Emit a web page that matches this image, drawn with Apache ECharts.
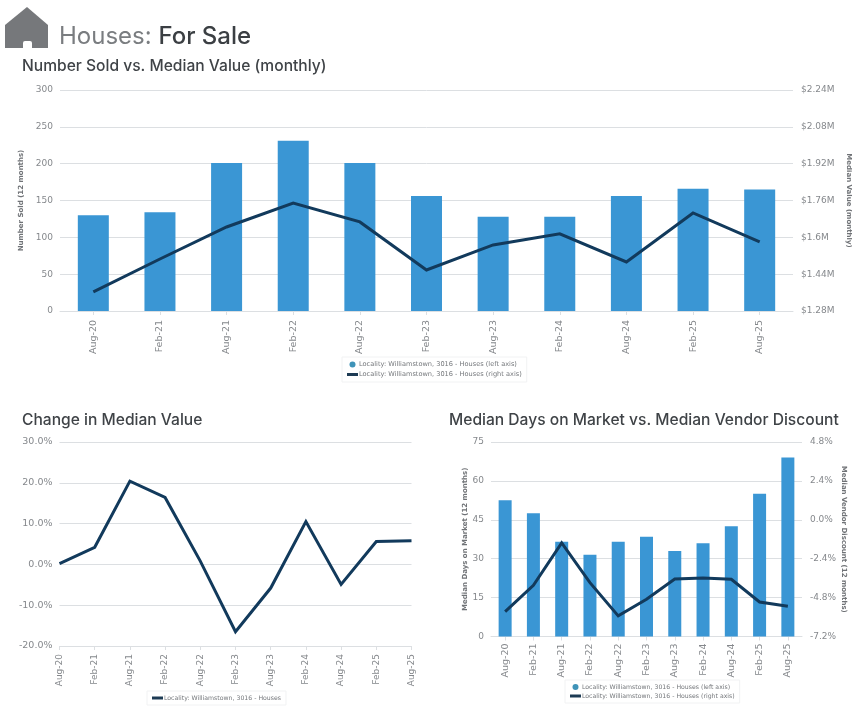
<!DOCTYPE html>
<html><head><meta charset="utf-8">
<style>html,body{margin:0;padding:0;background:#fff}#c{width:852px;height:710px}</style>
<script src="https://cdn.jsdelivr.net/npm/echarts@6/dist/echarts.min.js"></script>
</head><body><div id="c"></div>
<script>
const categories=['Aug-20','Feb-21','Aug-21','Feb-22','Aug-22','Feb-23','Aug-23','Feb-24','Aug-24','Feb-25','Aug-25'];
const numberSold=[130,134,201,231,201,156,128,128,156,166,165];
const medianValue=[1.363,1.506,1.645,1.749,1.667,1.458,1.567,1.615,1.493,1.706,1.58];
const changeMedian=[0.2,4.2,20.4,16.4,0.8,-16.5,-5.8,10.5,-4.9,5.6,5.8];
const daysOnMarket=[52.5,47.5,36.5,31.5,36.5,38.5,33,36,42.5,55,69];
const vendorDiscount=[-5.66,-4.04,-1.42,-3.88,-5.93,-4.9,-3.65,-3.59,-3.67,-5.07,-5.33];
const nameLeft='Locality: Williamstown, 3016 - Houses (left axis)';
const nameRight='Locality: Williamstown, 3016 - Houses (right axis)';
const nameOnly='Locality: Williamstown, 3016 - Houses';
const BAR='#3a96d4',LINE='#123a5c',DOT='#3f93b8',GRID='#dcdfe2',TXT='#85888c',HEAD='#3f4347';
const F='"DejaVu Sans",sans-serif';
const xAxis=(g,gap,fs,m)=>({type:'category',gridIndex:g,data:categories,boundaryGap:gap,
  axisLine:{onZero:false,lineStyle:{color:GRID}},axisTick:{show:true,alignWithLabel:true,lineStyle:{color:GRID},length:4},
  axisLabel:{rotate:90,color:TXT,fontSize:fs,fontFamily:F,margin:m,interval:0,hideOverlap:false}});
const yAxis=(g,min,max,interval,fmt,name,pos,fs,gap)=>({type:'value',gridIndex:g,min,max,interval,position:pos||'left',
  name:name||'',nameLocation:'middle',nameGap:gap||0,nameRotate:pos==='right'?-90:90,
  nameTextStyle:{color:'#6f7276',fontSize:7,fontWeight:'bold',fontFamily:F},
  axisLine:{show:false},axisTick:{show:false},
  splitLine:{show:pos!=='right',lineStyle:{color:GRID,width:1}},
  axisLabel:{color:TXT,fontSize:fs||9,fontFamily:F,margin:pos==='right'?8:7,formatter:fmt}});
const legendBox=(data,left,top,fs)=>({orient:'vertical',left,top,data,itemWidth:11,itemHeight:6,itemGap:3,
  padding:[4,5],backgroundColor:'#fff',borderColor:'#f1f2f3',borderWidth:1,selectedMode:false,
  textStyle:{color:'#74777b',fontSize:fs,fontFamily:F,padding:[0,0,0,-4]}});
const circ=(n)=>({name:n,icon:'circle',itemStyle:{color:DOT}});
const rect=(n)=>({name:n,icon:'path://M0,0H11V3H0Z',itemStyle:{color:'#1d3b54'}});
const lineS=(name,x,y,data)=>({name,type:'line',xAxisIndex:x,yAxisIndex:y,data,symbol:'none',smooth:false,z:5,
  lineStyle:{color:LINE,width:3,join:'miter'},itemStyle:{color:LINE}});
const barS=(name,x,y,data,w)=>({name,type:'bar',xAxisIndex:x,yAxisIndex:y,data,barWidth:w,itemStyle:{color:BAR}});
const HF='Inter, sans-serif';
const option={animation:false,backgroundColor:'#fff',
 title:[
  {text:'{a|Houses: }{b|For Sale}',left:54,top:20,textStyle:{rich:{a:{fontSize:24,fontWeight:'normal',color:'#7a7d80',fontFamily:HF},b:{fontSize:24,fontWeight:500,color:'#3b3f43',fontFamily:HF}}}},
  {text:'Number Sold vs. Median Value (monthly)',left:17,top:53,textStyle:{fontSize:15.6,fontWeight:500,color:HEAD,fontFamily:HF}},
  {text:'Change in Median Value',left:17,top:407,textStyle:{fontSize:15.6,fontWeight:500,color:HEAD,fontFamily:HF}},
  {text:'Median Days on Market vs. Median Vendor Discount',left:444,top:407,textStyle:{fontSize:15.6,fontWeight:500,color:HEAD,fontFamily:HF}}
 ],
 graphic:[
  {type:'polygon',shape:{points:[[5,25],[27,7],[48,25],[48,48],[5,48]]},style:{fill:'#76787b'}},
  {type:'rect',shape:{x:23,y:41,width:9,height:7,r:[2,2,0,0]},style:{fill:'#fff'}}
 ],
 grid:[
  {left:60,width:733,top:90,height:221,outerBoundsMode:'none'},
  {left:59.5,width:352,top:442,height:204,outerBoundsMode:'none'},
  {left:491,width:311,top:442,height:194.5,outerBoundsMode:'none'}
 ],
 legend:[
  legendBox([circ(nameLeft),rect(nameRight)],342,357,6.6),
  legendBox([rect(nameOnly)],147,691,6.2),
  legendBox([circ(nameLeft),rect(nameRight)],565,680,6.2)
 ],
 xAxis:[xAxis(0,true,9.5,9),xAxis(1,false,9,8),xAxis(2,true,9.5,7)],
 yAxis:[
  yAxis(0,0,300,50,v=>v,'Number Sold (12 months)','left',9,27),
  yAxis(0,1.28,2.24,0.16,v=>'$'+v.toFixed(2).replace(/0$/,'').replace(/\.0$/,'')+'M','Median Value (monthly)','right',9,40),
  yAxis(1,-20,30,10,v=>v.toFixed(1)+'%','','left',9.5),
  yAxis(2,0,75,15,v=>v,'Median Days on Market (12 months)','left',9,20),
  yAxis(2,-7.2,4.8,2.4,v=>v.toFixed(1)+'%','Median Vendor Discount (12 months)','right',9,36)
 ],
 series:[
  barS(nameLeft,0,0,numberSold,31),
  lineS(nameRight,0,1,medianValue),
  lineS(nameOnly,1,2,changeMedian),
  barS(nameLeft,2,3,daysOnMarket,13),
  lineS(nameRight,2,4,vendorDiscount)
 ]};
echarts.init(document.getElementById('c')).setOption(option);
</script></body></html>
